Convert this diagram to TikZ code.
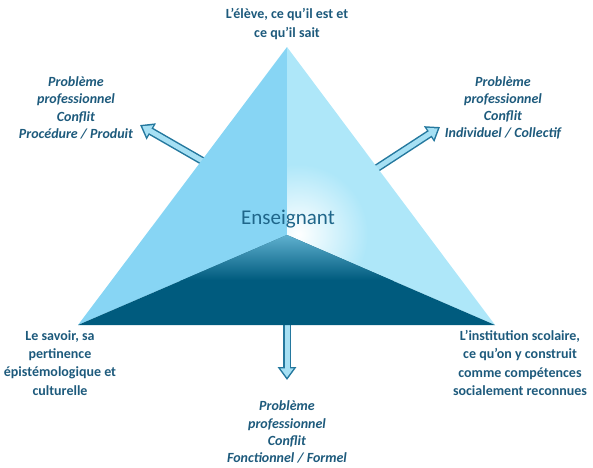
\documentclass[tikz,border=0pt]{standalone}
\usepackage{fontspec}
\setmainfont{Carlito}
\usetikzlibrary{arrows.meta}
\definecolor{texte}{HTML}{1D5A7C}
\definecolor{titre}{HTML}{1F668A}
\definecolor{facegauche}{HTML}{87D5F4}
\definecolor{facedroite}{HTML}{AEE7F9}
\definecolor{facebas}{HTML}{005B7E}
\definecolor{facebasclair}{HTML}{5FB0CF}
\definecolor{bordfleche}{HTML}{24789E}
\definecolor{fondfleche}{HTML}{A6E0F4}
\begin{document}
\begin{tikzpicture}[x=1pt,y=-1pt,
		etiquette/.style={font=\bfseries\fontsize{14}{18.2}\selectfont, text=texte, align=center},
		probleme/.style={font=\bfseries\itshape\fontsize{14}{17.2}\selectfont, text=texte, align=center},
		flechebord/.style={line width=8pt, draw=bordfleche, -{Triangle[length=13pt,width=18pt]}},
		flechefond/.style={line width=5pt, draw=fondfleche, shorten >=2.6pt, -{Triangle[length=9pt,width=12.5pt]}}]
		\useasboundingbox (0,0) rectangle (593,467);

		\coordinate (sommet) at (287,47);
		\coordinate (centre) at (287,235);
		\coordinate (basgauche) at (78,325);
		\coordinate (basdroite) at (495,325);

		\coordinate (queuegauche) at (206,163);
		\coordinate (pointegauche) at (140,125);
		\coordinate (queuedroite) at (374,170);
		\coordinate (pointedroite) at (440,127);
		\coordinate (queuebas) at (287,320);
		\coordinate (pointebas) at (287,380);

		\draw[flechebord] (queuegauche) -- (pointegauche);
		\draw[flechefond] (queuegauche) -- (pointegauche);
		\draw[flechebord] (queuedroite) -- (pointedroite);
		\draw[flechefond] (queuedroite) -- (pointedroite);
		\draw[flechebord] (queuebas) -- (pointebas);
		\draw[flechefond] (queuebas) -- (pointebas);

		\fill[facegauche] (sommet) -- (centre) -- (basgauche) -- cycle;
		\fill[facedroite] (sommet) -- (centre) -- (basdroite) -- cycle;
		\begin{scope}
			\clip (sommet) -- (centre) -- (basdroite) -- cycle;
			\shade[inner color=white, outer color=facedroite] (298,234) circle (70pt);
		\end{scope}
		\fill[facebas] (basgauche) -- (centre) -- (basdroite) -- cycle;
		\begin{scope}
			\clip (basgauche) -- (centre) -- (basdroite) -- cycle;
			\shade[top color=facebasclair, bottom color=facebas] (78,235) rectangle (495,280);
		\end{scope}

		\node[font=\fontsize{21}{24}\selectfont, text=titre] (enseignant) at (288,219) {Enseignant};

		\node[etiquette] (eleve) at (287,24) {L'élève, ce qu'il est et\\ce qu'il sait};
		\node[etiquette] (savoir) at (60,363) {Le savoir, sa\\pertinence\\épistémologique et\\culturelle};
		\node[etiquette] (institution) at (520,363) {L'institution scolaire,\\ce qu'on y construit\\comme compétences\\socialement reconnues};

		\node[probleme] (pbgauche) at (76,108) {Problème\\professionnel\\Conflit\\Procédure / Produit};
		\node[probleme] (pbdroite) at (503,108) {Problème\\professionnel\\Conflit\\Individuel / Collectif};
		\node[probleme] (pbbas) at (287,432) {Problème\\professionnel\\Conflit\\Fonctionnel / Formel};
	\end{tikzpicture}
\end{document}
